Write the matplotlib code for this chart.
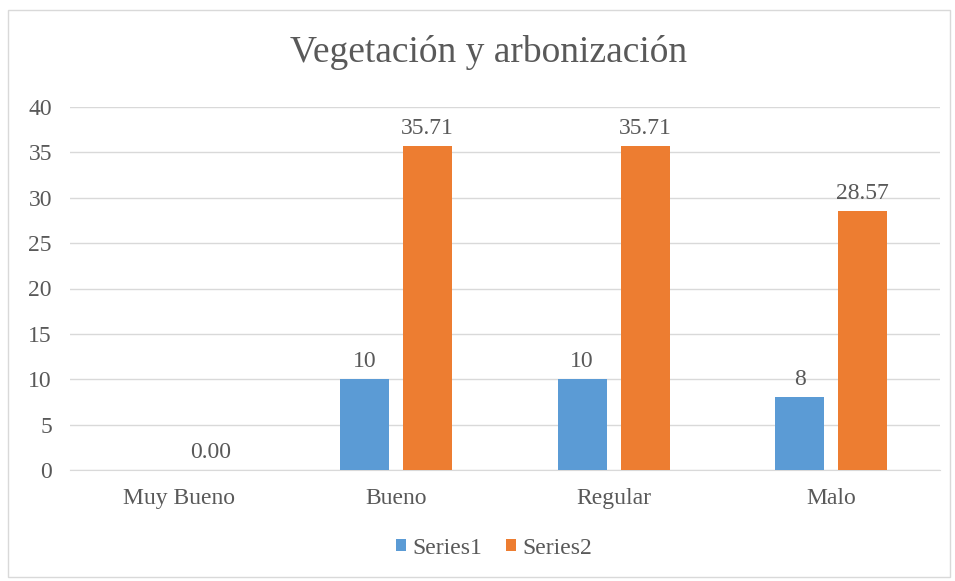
import matplotlib
matplotlib.use("Agg")
import matplotlib.pyplot as plt
from matplotlib.patches import Rectangle
import numpy as np

categories = ["Muy Bueno", "Bueno", "Regular", "Malo"]
series1 = [np.nan, 10, 10, 8]
series2 = [0.00, 35.71, 35.71, 28.57]
series_names = ["Series1", "Series2"]
yticks = [0, 5, 10, 15, 20, 25, 30, 35, 40]

plt.rcParams['font.family'] = ['Liberation Serif', 'DejaVu Serif']
txt = '#595959'

fig = plt.figure(figsize=(9.55, 5.81), dpi=100)
fig.patches.append(Rectangle((8/955, 1-577/581), 942/955, 567/581, transform=fig.transFigure,
                             fill=False, edgecolor='#D9D9D9', linewidth=1))
ax = fig.add_axes([70/955, 1-470/581, 870/955, 363/581])

x = np.arange(len(categories))
w = 0.225
off = 0.145
b1 = ax.bar(x - off, series1, w, color='#5B9BD5', label=series_names[0], zorder=3)
b2 = ax.bar(x + off, series2, w, color='#ED7D31', label=series_names[1], zorder=3)

for xi, v in zip(x, series1):
    if not np.isnan(v):
        ax.annotate(f"{v:g}", (xi - off, v), xytext=(0, 5), textcoords='offset points',
                    ha='center', va='bottom', fontsize=17, color=txt)
for xi, v in zip(x, series2):
    ax.annotate(f"{v:.2f}", (xi + off, v), xytext=(0, 5), textcoords='offset points',
                ha='center', va='bottom', fontsize=17, color=txt)

ax.set_xlim(-0.5, 3.5)
ax.set_ylim(0, 40)
ax.set_yticks(yticks)
ax.set_xticks(x)
ax.set_xticklabels(categories)
ax.yaxis.grid(True, color='#D9D9D9', linewidth=1, zorder=0)
for s in ax.spines.values():
    s.set_visible(False)
ax.spines['bottom'].set_visible(True)
ax.spines['bottom'].set_color('#D9D9D9')
ax.tick_params(axis='both', length=0, labelsize=17, labelcolor=txt)
ax.tick_params(axis='y', pad=13)
ax.tick_params(axis='x', pad=13)

fig.text(489/955, 1-52/581, "Vegetación y arbonización", ha='center', va='center',
         fontsize=27, color=txt)
fig.legend(handles=[b1, b2], loc='center', bbox_to_anchor=(494/955, 1-548/581), ncol=2,
           frameon=False, fontsize=17, labelcolor=txt, handlelength=0.45, handleheight=0.45,
           handletextpad=0.25, columnspacing=1.0)

fig.savefig("out.png", dpi=100)
